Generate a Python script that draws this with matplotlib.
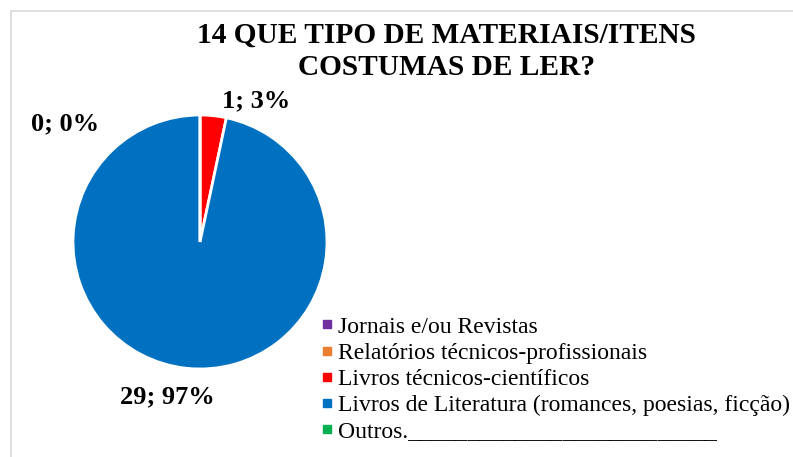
import matplotlib.pyplot as plt
from matplotlib.lines import Line2D
from matplotlib.patches import Rectangle

plt.rcParams["font.family"] = ["Liberation Serif", "DejaVu Serif"]

# Survey answers for question 14
categories = [
    "Jornais e/ou Revistas",
    "Relatórios técnicos-profissionais",
    "Livros técnicos-científicos",
    "Livros de Literatura (romances, poesias, ficção)",
    "Outros.__________________________",
]
counts = [0, 0, 1, 29, 0]
colors = ["#7030A0", "#ED7D31", "#FF0000", "#0070C0", "#00B050"]

# Label text and where each visible label sits (in pie radius units)
label_slices = [0, 2, 3]
label_offsets = [(-1.06, 0.93), (0.44, 1.11), (-0.26, -1.22)]

fig = plt.figure(figsize=(7.93, 4.57), dpi=100)

# Light grey chart-area border, cut off at right and bottom like the source
fig.patches.append(Rectangle((11 / 793, -0.1), 1.0, (457 - 11) / 457 + 0.1,
                             transform=fig.transFigure, fill=False,
                             edgecolor="#d9d9d9", linewidth=1.2))

ax = fig.add_axes([9.5 / 793, 24.5 / 457, 381 / 793, 381 / 457])
wedges, _ = ax.pie(
    counts,
    colors=colors,
    startangle=90,
    counterclock=False,
    radius=1.0,
    wedgeprops=dict(edgecolor="white", linewidth=2),
)
ax.set_xlim(-1.5, 1.5)
ax.set_ylim(-1.5, 1.5)
ax.set_aspect("equal")
ax.axis("off")

total = sum(counts)
for idx, (dx, dy) in zip(label_slices, label_offsets):
    pct = round(100 * counts[idx] / total)
    ax.text(dx, dy, f"{counts[idx]}; {pct}%", ha="center", va="center",
            fontsize=19, fontweight="bold", clip_on=False)

fig.text(0.5635, 1 - 51 / 457, "14 QUE TIPO DE MATERIAIS/ITENS\nCOSTUMAS DE LER?",
         ha="center", va="center", fontsize=21.2, fontweight="bold",
         linespacing=1.25)

handles = [Line2D([], [], marker="s", linestyle="none", markersize=6,
                  markerfacecolor=c, markeredgecolor=c) for c in colors]
fig.legend(handles, categories, loc="upper left",
           bbox_to_anchor=(320 / 793, 1 - 316 / 457), frameon=False,
           fontsize=17, handlelength=0.6, handletextpad=0.15,
           labelspacing=0.2, borderaxespad=0, borderpad=0)

fig.savefig("out.png", dpi=100)
